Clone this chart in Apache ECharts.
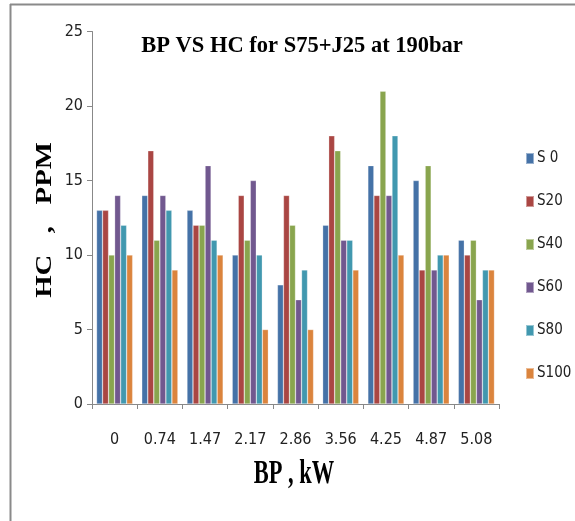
<!DOCTYPE html>
<html>
<head>
<meta charset="utf-8">
<script src="https://cdn.jsdelivr.net/npm/echarts@6/dist/echarts.min.js"></script>
<style>
  html, body { margin: 0; padding: 0; background: #fff; }
  #chart { width: 575px; height: 521px; }
</style>
</head>
<body>
<div id="chart"></div>
<script>
// Brake power categories (kW)
const bpLabels = ['0', '0.74', '1.47', '2.17', '2.86', '3.56', '4.25', '4.87', '5.08'];

// HC emissions (ppm) for each blend
const seriesNames = ['S 0', 'S20', 'S40', 'S60', 'S80', 'S100'];
const hcS0   = [13, 14, 13, 10,  8, 12, 16, 15, 11];
const hcS20  = [13, 17, 12, 14, 14, 18, 14,  9, 10];
const hcS40  = [10, 11, 12, 11, 12, 17, 21, 16, 11];
const hcS60  = [14, 14, 16, 15,  7, 11, 14,  9,  7];
const hcS80  = [12, 13, 11, 10,  9, 11, 18, 10,  9];
const hcS100 = [10,  9, 10,  5,  5,  9, 10, 10,  9];

const seriesData = [hcS0, hcS20, hcS40, hcS60, hcS80, hcS100];
const palette = ['#4572A7', '#AA4643', '#89A54E', '#71588F', '#4198AF', '#DB843D'];

const narrow = '"Liberation Sans Narrow", "DejaVu Sans Condensed", "Liberation Sans", sans-serif';
const serif = '"Liberation Serif", "DejaVu Serif", serif';

const chart = echarts.init(document.getElementById('chart'), null, { renderer: 'canvas' });

chart.setOption({
  animation: false,
  backgroundColor: '#ffffff',
  color: palette,
  title: {
    text: 'BP VS HC for S75+J25 at 190bar',
    left: 297,
    top: 30,
    textAlign: 'center',
    textStyle: { fontFamily: serif, fontWeight: 'bold', fontSize: 22.5, color: '#000' }
  },
  legend: {
    orient: 'vertical',
    left: 520,
    top: 146,
    itemWidth: 8,
    itemHeight: 11,
    itemGap: 28,
    icon: 'rect',
    data: seriesNames,
    textStyle: { fontFamily: narrow, fontSize: 15, color: '#222', padding: [0, 0, 0, -2] }
  },
  grid: { left: 92, right: 76, top: 31.5, bottom: 117 },
  xAxis: {
    type: 'category',
    data: bpLabels,
    axisLine: { lineStyle: { color: '#888', width: 1 } },
    axisTick: { show: true, length: 5, alignWithLabel: false, lineStyle: { color: '#888' } },
    axisLabel: { margin: 28, fontFamily: narrow, fontSize: 16, color: '#222' }
  },
  yAxis: {
    type: 'value',
    min: 0,
    max: 25,
    interval: 5,
    axisLine: { show: true, lineStyle: { color: '#888', width: 1 } },
    axisTick: { show: true, length: 5, lineStyle: { color: '#888' } },
    axisLabel: { margin: 9, fontFamily: narrow, fontSize: 16, color: '#222' },
    splitLine: { show: false }
  },
  series: seriesNames.map((name, i) => ({
    name: name,
    type: 'bar',
    data: seriesData[i],
    barGap: '0%',
    barCategoryGap: '20%',
    itemStyle: { borderColor: 'rgba(255,255,255,0.45)', borderWidth: 0.6 }
  })),
  graphic: [
    // figure frame (top and left edges)
    {
      type: 'line',
      shape: { x1: 10, y1: 4.5, x2: 575, y2: 4.5 },
      style: { stroke: '#8a8a8a', lineWidth: 2 },
      silent: true
    },
    {
      type: 'line',
      shape: { x1: 10.5, y1: 4, x2: 10.5, y2: 521 },
      style: { stroke: '#8a8a8a', lineWidth: 2 },
      silent: true
    },
    // axis titles
    {
      type: 'text',
      x: 45,
      y: 220,
      rotation: Math.PI / 2,
      scaleX: 1.25,
      style: {
        text: 'HC   ,   PPM',
        font: 'bold 23px "Liberation Serif", serif',
        fill: '#000',
        textAlign: 'center',
        textVerticalAlign: 'middle'
      },
      silent: true
    },
    {
      type: 'text',
      x: 294,
      y: 474,
      scaleX: 0.68,
      style: {
        text: 'BP , kW',
        font: 'bold 33px "Liberation Serif", serif',
        fill: '#000',
        textAlign: 'center',
        textVerticalAlign: 'middle'
      },
      silent: true
    }
  ]
});
</script>
</body>
</html>
